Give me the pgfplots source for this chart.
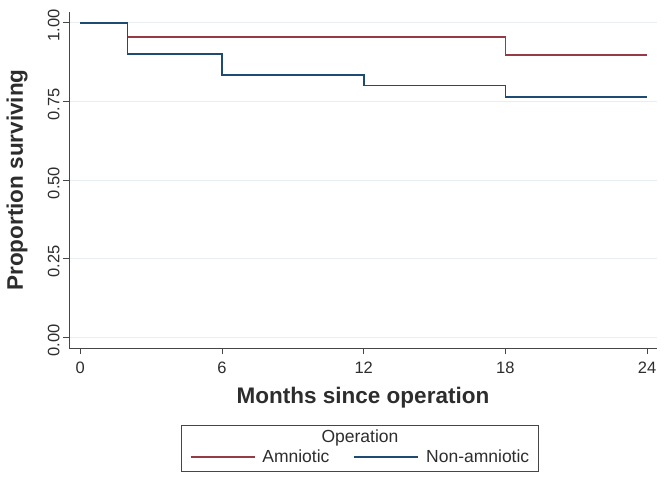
\documentclass[border=0pt]{standalone}
\usepackage{fontspec}
\setmainfont{Liberation Sans}
\usepackage{pgfplots}
\pgfplotsset{compat=1.18}

\definecolor{kmred}{RGB}{150,58,68}
\definecolor{kmblue}{RGB}{30,75,115}
\definecolor{gridc}{RGB}{232,238,241}
\definecolor{axc}{RGB}{70,70,70}
\definecolor{txtc}{RGB}{45,45,45}

\begin{document}
\begin{tikzpicture}
\begin{axis}[
  scale only axis,
  width=588bp, height=336bp,
  at={(69bp,-348bp)}, anchor=south west,
  xmin=-0.48, xmax=24.42,
  ymin=-0.034, ymax=1.034,
  axis x line*=bottom, axis y line*=left,
  axis line style={axc, line width=1bp, -},
  xtick={0,6,12,18,24},
  ytick={0,0.25,0.5,0.75,1},
  tick align=outside,
  major tick length=6bp,
  tick style={axc, line width=0.9bp},
  ymajorgrids,
  grid style={gridc, line width=1bp},
  /pgf/number format/assume math mode=true,
  yticklabel style={/pgf/number format/.cd, fixed, fixed zerofill, precision=2,
    /tikz/.cd, rotate=90, anchor=south, xshift=-3bp,
    font=\fontsize{16.5bp}{18bp}\selectfont, text=txtc},
  xticklabel style={font=\fontsize{16.5bp}{18bp}\selectfont, text=txtc, yshift=-4bp},
  xlabel={Months since operation},
  ylabel={Proportion surviving},
  xlabel style={at={(axis description cs:0.5,-0.147)}, anchor=center,
    font=\fontsize{22.5bp}{26bp}\selectfont\bfseries, text=txtc},
  ylabel style={at={(axis description cs:-0.0884,0.5)}, anchor=center, rotate=0,
    font=\fontsize{22.5bp}{26bp}\selectfont\bfseries, text=txtc},
  legend columns=2,
  legend style={at={(axis description cs:0.4957,-0.3244)}, anchor=center,
    draw=none, fill=none, font=\fontsize{17.5bp}{20bp}\selectfont, text=txtc,
    /tikz/every odd column/.append style={column sep=5bp},
    /tikz/every even column/.append style={column sep=22bp}},
  legend image code/.code={\draw[#1] (0bp,0bp) -- (64bp,0bp);},
]
\addplot[const plot, kmred, line width=1.7bp] coordinates {
  (0,1) (2,0.955) (18,0.898) (24,0.898)};
\addlegendentry{Amniotic}
\addplot[const plot, kmblue, line width=1.7bp] coordinates {
  (0,1) (2,0.9005) (6,0.834) (12,0.80) (18,0.764) (24,0.764)};
\addlegendentry{Non-amniotic}
\end{axis}
\draw[axc, line width=0.8bp] (181.7bp,-425bp) rectangle (538bp,-471bp);
\node[text=txtc, font=\fontsize{17.5bp}{20bp}\selectfont] at (360bp,-438bp) {Operation};
\pgfresetboundingbox
\path[use as bounding box] (0,0) rectangle (666bp,-481bp);
\end{tikzpicture}
\end{document}
